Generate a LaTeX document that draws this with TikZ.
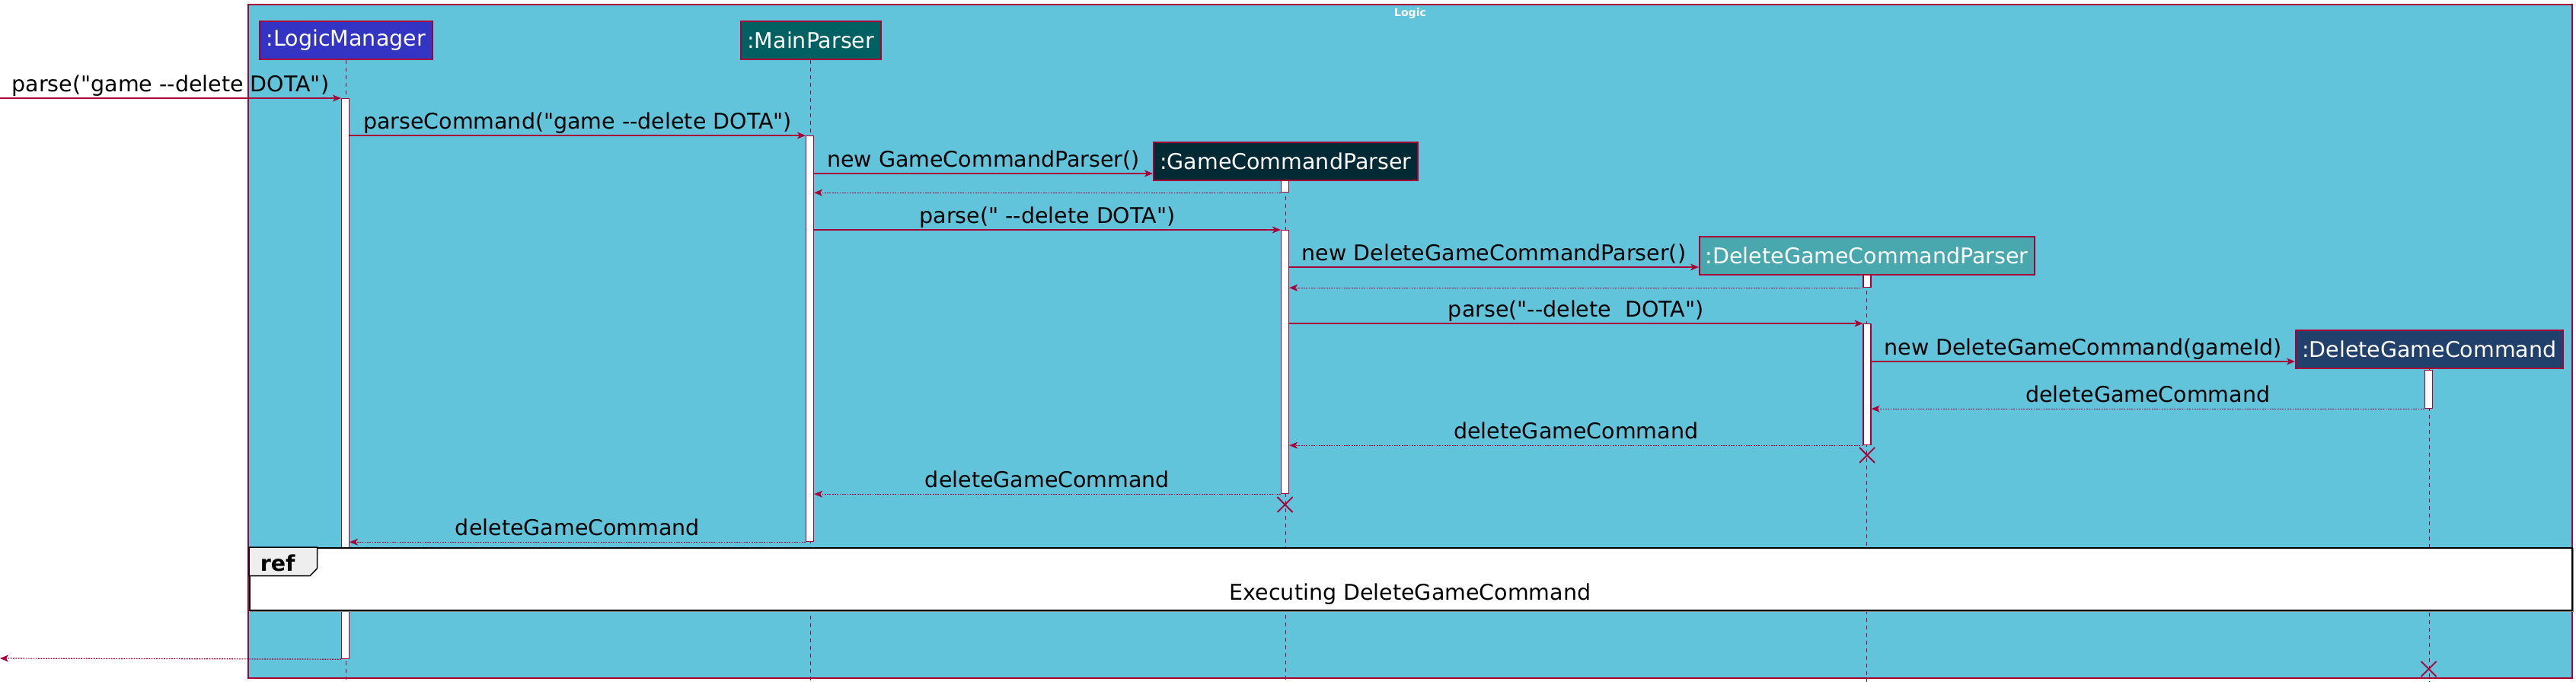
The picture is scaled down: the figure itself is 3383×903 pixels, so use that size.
\documentclass[tikz,border=0pt]{standalone}
\usepackage{fontspec}
\setmainfont{DejaVu Sans}[Ligatures=TeXOff]
\usetikzlibrary{arrows.meta}
\definecolor{crim}{HTML}{A80036}
\definecolor{bgc}{HTML}{62C4DA}
\definecolor{lmc}{HTML}{3333C4}
\definecolor{mpc}{HTML}{006062}
\definecolor{gcpc}{HTML}{022A34}
\definecolor{dgcpc}{HTML}{48A8AD}
\definecolor{dgcc}{HTML}{21406B}
\definecolor{tabc}{HTML}{EEEEEE}
\begin{document}
\begin{tikzpicture}[x=1pt,y=-1pt,
  every node/.style={font=\fontsize{28.5}{34}\selectfont},
  part/.style={draw=crim, line width=1.5pt, text=white, minimum height=50, inner sep=0, anchor=north west},
  lifeline/.style={draw=crim, line width=1pt, dash pattern=on 5pt off 5pt},
  act/.style={draw=crim, fill=white, line width=1.2pt, minimum width=10, inner sep=0, anchor=north},
  msg/.style={draw=crim, line width=1.2pt, -{Stealth[length=11pt,width=9pt,inset=3pt]}},
  ret/.style={msg, dash pattern=on 1.8pt off 1.5pt},
  lbl/.style={anchor=base, text=black, inner sep=0, yshift=9pt},
  destroy/.style={draw=crim, line width=1.8pt}
]
\useasboundingbox (0,0) rectangle (3383,903);
% frame
\draw[fill=bgc, draw=crim, line width=1.5pt] (326,6) rectangle (3378,891);
\node[font=\fontsize{14}{16}\selectfont\bfseries, text=white, anchor=base] (title) at (1852,21) {Logic};

% participants
\node[part, fill=lmc, minimum width=227] (lm) at (340,27) {:LogicManager};
\node[part, fill=mpc, minimum width=184] (mp) at (972,27) {:MainParser};
\node[part, fill=gcpc, minimum width=347] (gcp) at (1514,186) {:GameCommandParser};
\node[part, fill=dgcpc, minimum width=440] (dgcp) at (2231,310) {:DeleteGameCommandParser};
\node[part, fill=dgcc, minimum width=351] (dgc) at (3014,433) {:DeleteGameCommand};

% lifelines
\draw[lifeline] (lm.south) -- (lm.south |- 0,893);
\draw[lifeline] (mp.south) -- (mp.south |- 0,896);
\draw[lifeline] (gcp.south) -- (gcp.south |- 0,896);
\draw[lifeline] (dgcp.south) -- (dgcp.south |- 0,896);
\draw[lifeline] (dgc.south) -- (dgc.south |- 0,896);

% activations
\node[act, minimum height=736] (lmA) at (453.5,129) {};
\node[act, minimum height=533] (mpA) at (1063.5,178) {};
\node[act, minimum height=15] (gcpA1) at (1687.5,237) {};
\node[act, minimum height=346] (gcpA2) at (1687.5,302) {};
\node[act, minimum height=16] (dgcpA1) at (2452,361) {};
\node[act, minimum height=159] (dgcpA2) at (2452,425) {};
\node[act, minimum height=50] (dgcA) at (3189.5,486) {};

% external ends
\coordinate (ext1) at (0,129);
\coordinate (ext2) at (0,865);

% messages
\draw[msg] (ext1) -- node[lbl] {parse("game --delete DOTA")} (lmA.north west);
\draw[msg] (lmA.east |- mpA.north) -- node[lbl] {parseCommand("game --delete DOTA")} (mpA.north west);
\draw[msg] (mpA.east |- 0,228) -- node[lbl] {new GameCommandParser()} (gcp.west |- 0,228);
\draw[ret] (gcpA1.south west) -- (mpA.east |- gcpA1.south);
\draw[msg] (mpA.east |- gcpA2.north) -- node[lbl] {parse(" --delete DOTA")} (gcpA2.north west);
\draw[msg] (gcpA2.east |- 0,351) -- node[lbl] {new DeleteGameCommandParser()} (dgcp.west |- 0,351);
\draw[ret] (dgcpA1.south west) -- (gcpA2.east |- dgcpA1.south);
\draw[msg] (gcpA2.east |- dgcpA2.north) -- node[lbl] {parse("--delete\ \ DOTA")} (dgcpA2.north west);
\draw[msg] (dgcpA2.east |- 0,475) -- node[lbl] {new DeleteGameCommand(gameId)} (dgc.west |- 0,475);
\draw[ret] (dgcA.south west) -- node[lbl] {deleteGameCommand} (dgcpA2.east |- dgcA.south);
\draw[ret] (dgcpA2.south west) -- node[lbl] {deleteGameCommand} (gcpA2.east |- dgcpA2.south);
\draw[ret] (gcpA2.south west) -- node[lbl] {deleteGameCommand} (mpA.east |- gcpA2.south);
\draw[ret] (mpA.south west) -- node[lbl] {deleteGameCommand} (lmA.east |- mpA.south);
\draw[ret] (lmA.south west) -- (ext2);

% destroys
\draw[destroy] (2442,588) -- (2462,608) (2442,608) -- (2462,588);
\draw[destroy] (1677.5,653) -- (1697.5,673) (1677.5,673) -- (1697.5,653);
\draw[destroy] (3179.5,869) -- (3199.5,889) (3179.5,889) -- (3199.5,869);

% ref
\draw[gray, line width=2pt] (329,721) rectangle (3378.5,802.5);
\node[draw=black, fill=white, line width=2pt, anchor=north west, minimum width=3049.5, minimum height=81.5, inner sep=0] (ref) at (327,719) {};
\draw[fill=tabc, draw=black, line width=1.5pt] (ref.north west) -- (416.7,719) -- (416.7,746.7) -- (407,756.7) -- (327,756.7) -- cycle;
\node[anchor=base west, font=\fontsize{28.5}{34}\selectfont\bfseries, inner sep=0] (reft) at (341.6,750) {ref};
\node[anchor=base, inner sep=0] (reftext) at (1852,788) {Executing DeleteGameCommand};
\end{tikzpicture}
\end{document}
